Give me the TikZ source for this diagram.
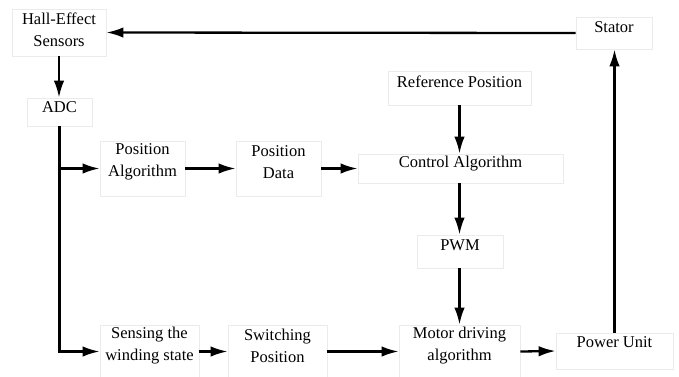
\documentclass[tikz,border=0pt]{standalone}
\usepackage{fontspec}
\setmainfont{Liberation Serif}
\usetikzlibrary{arrows.meta}
\begin{document}
\begin{tikzpicture}[x=1pt,y=-1pt,
  box/.style={draw=black!8, line width=0.8pt, fill=white, inner sep=0pt},
  txt/.style={align=center, inner sep=0pt, font=\fontsize{16.5}{22}\selectfont},
  arr/.style={line width=2.3pt, -{Latex[length=17pt,width=10.5pt]}}]
\useasboundingbox (0,0) rectangle (679,376);
% boxes
\node[box, minimum width=94pt, minimum height=47pt] (hall) at (59,32.5) {};
\node[box, minimum width=65pt, minimum height=28pt] (adc) at (59.5,112) {};
\node[box, minimum width=85pt, minimum height=55pt] (palg) at (142.5,168.5) {};
\node[box, minimum width=85pt, minimum height=55pt] (pdata) at (278.5,168.5) {};
\node[box, minimum width=143pt, minimum height=34pt] (ref) at (459.5,88) {};
\node[box, minimum width=205pt, minimum height=29pt] (ctrl) at (460.5,168.5) {};
\node[box, minimum width=76pt, minimum height=32pt] (stator) at (614,33) {};
\node[box, minimum width=86pt, minimum height=33pt] (pwm) at (460,251.5) {};
\node[box, minimum width=121pt, minimum height=53pt] (motor) at (459.5,351.5) {};
\node[box, minimum width=117pt, minimum height=36pt] (power) at (614.5,351) {};
\node[box, minimum width=99pt, minimum height=53pt] (sense) at (149.5,351.5) {};
\node[box, minimum width=99pt, minimum height=53pt] (switch) at (277.5,351.5) {};
% texts
\node[txt] at (59,30) {Hall-Effect\\Sensors};
\node[txt] at (59.5,107) {ADC};
\node[txt] at (142.5,162) {Position\\Algorithm};
\node[txt] at (278.5,162) {Position\\Data};
\node[txt] at (459.5,82) {Reference Position};
\node[txt] at (460.5,164) {Control Algorithm};
\node[txt] at (614,27) {Stator};
\node[txt] at (460,245) {PWM};
\node[txt] at (459.5,346) {Motor driving\\algorithm};
\node[txt] at (614.5,342) {Power Unit};
\node[txt] at (149.5,346) {Sensing the\\winding state};
\node[txt] at (277.5,346) {Switching\\Position};
% connectors
\draw[arr] (stator.west) -- (hall.east);
\draw[arr] (hall.south) -- (hall.south |- adc.north);
\draw[arr] (adc.south) |- (sense.west);
\draw[arr] (adc.south |- palg.west) -- (palg.west);
\draw[arr] (palg.east) -- (pdata.west);
\draw[arr] (pdata.east) -- (ctrl.west);
\draw[arr] (ref.south) -- (ref.south |- ctrl.north);
\draw[arr] (ref.south |- ctrl.south) -- (ref.south |- pwm.north);
\draw[arr] (ref.south |- pwm.south) -- (ref.south |- motor.north);
\draw[arr] (sense.east) -- (switch.west);
\draw[arr] (switch.east) -- (motor.west);
\draw[arr] (motor.east) -- (power.west);
\draw[arr] (power.north) -- (power.north |- stator.south);
\end{tikzpicture}
\end{document}
